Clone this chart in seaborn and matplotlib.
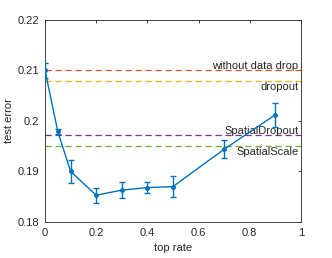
import matplotlib
matplotlib.use("Agg")
import matplotlib.pyplot as plt
import seaborn as sns
import numpy as np
import pandas as pd

rates = [0.0, 0.05, 0.1, 0.2, 0.3, 0.4, 0.5, 0.7, 0.9]
errors = [0.2100, 0.1979, 0.1900, 0.1853, 0.1863, 0.1868, 0.1870, 0.1944, 0.2012]
err_sd = [0.0015, 0.0005, 0.0022, 0.0015, 0.0016, 0.0011, 0.0021, 0.0018, 0.0024]

baseline_names = ["without data drop", "dropout", "SpatialDropout", "SpatialScale"]
baseline_values = [0.2100, 0.2079, 0.1972, 0.1951]
baseline_colors = ["#D95319", "#EDB120", "#7E2F8E", "#77AC30"]
label_above = [True, False, True, False]

xticks = [0, 0.2, 0.4, 0.6, 0.8, 1]
yticks = [0.18, 0.19, 0.2, 0.21, 0.22]
xtick_labels = ["0", "0.2", "0.4", "0.6", "0.8", "1"]
ytick_labels = ["0.18", "0.19", "0.2", "0.21", "0.22"]

sns.set_style("white")
plt.rcParams["font.family"] = ["Liberation Sans", "DejaVu Sans"]
FS = 8.0
plt.rcParams["font.size"] = FS

fig = plt.figure(figsize=(3.32, 2.58), dpi=100)
ax = fig.add_axes([0.1355, 0.1395, 0.9066 - 0.1355, 0.9236 - 0.1395])

df = pd.DataFrame({"rate": rates, "err": errors, "sd": err_sd})

for name, val, col, above in zip(baseline_names, baseline_values, baseline_colors, label_above):
    ax.axhline(val, color=col, lw=0.9, ls=(0, (5, 3)), zorder=1)
    if above:
        ax.text(0.99, val - 0.0001, name, ha="right", va="bottom", fontsize=FS, color="#262626")
    else:
        ax.text(0.99, val - 0.0003, name, ha="right", va="top", fontsize=FS, color="#262626")

ax.errorbar(df["rate"], df["err"], yerr=df["sd"], fmt="none", ecolor="#0072BD",
            elinewidth=1.0, capsize=2.5, capthick=1.0, zorder=3)
sns.lineplot(data=df, x="rate", y="err", ax=ax, color="#0072BD", lw=1.0,
             marker="o", markersize=3.5, markeredgewidth=0, zorder=4)

ax.set_xlim(0, 1)
ax.set_ylim(0.18, 0.22)
ax.set_xticks(xticks)
ax.set_xticklabels(xtick_labels)
ax.set_yticks(yticks)
ax.set_yticklabels(ytick_labels)
ax.set_xlabel("top rate", fontsize=FS, color="#262626", labelpad=4)
ax.set_ylabel("test error", fontsize=FS, color="#262626", labelpad=3)
ax.tick_params(direction="in", length=2.5, width=0.6, colors="#262626",
               top=True, right=True, labelsize=FS, pad=4)
for sp in ax.spines.values():
    sp.set_visible(True)
    sp.set_color("#262626")
    sp.set_linewidth(0.6)
ax.grid(False)

fig.savefig("out.png", dpi=100)
